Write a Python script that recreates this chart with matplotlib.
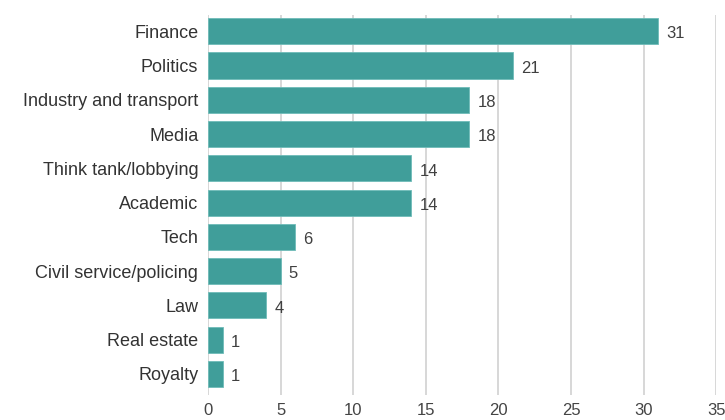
import matplotlib.pyplot as plt

categories = ["Finance", "Politics", "Industry and transport", "Media",
              "Think tank/lobbying", "Academic", "Tech", "Civil service/policing",
              "Law", "Real estate", "Royalty"]
values = [31, 21, 18, 18, 14, 14, 6, 5, 4, 1, 1]
xticks = [0, 5, 10, 15, 20, 25, 30, 35]

plt.rcParams['font.family'] = ['Liberation Sans', 'DejaVu Sans']

fig = plt.figure(figsize=(7.25, 4.2), dpi=100)
ax = fig.add_axes([0.287, 0.06, 0.701, 0.904])

pos = list(range(len(categories)))
ax.barh(pos, values, height=0.76, color="#409e9a", edgecolor="#6fbcb8", linewidth=0.6, zorder=3)

for p, v in zip(pos, values):
    ax.text(v + 0.55, p + 0.08, str(v), va="center", ha="left", fontsize=12, color="#404040")

ax.set_yticks(pos)
ax.set_yticklabels(categories, fontsize=13, color="#333333")
ax.set_ylim(len(categories) - 1 + 0.61, -0.47)
ax.set_xlim(0, 35)
ax.set_xticks(xticks)
ax.set_xticklabels([str(t) for t in xticks], fontsize=12, color="#444444")
ax.tick_params(axis="y", length=0, pad=7)
ax.tick_params(axis="x", length=0, pad=6)
ax.grid(axis="x", color="#d4d4d4", linewidth=1.3, zorder=0)
for s in ax.spines.values():
    s.set_visible(False)

fig.savefig("out.png", dpi=100)
